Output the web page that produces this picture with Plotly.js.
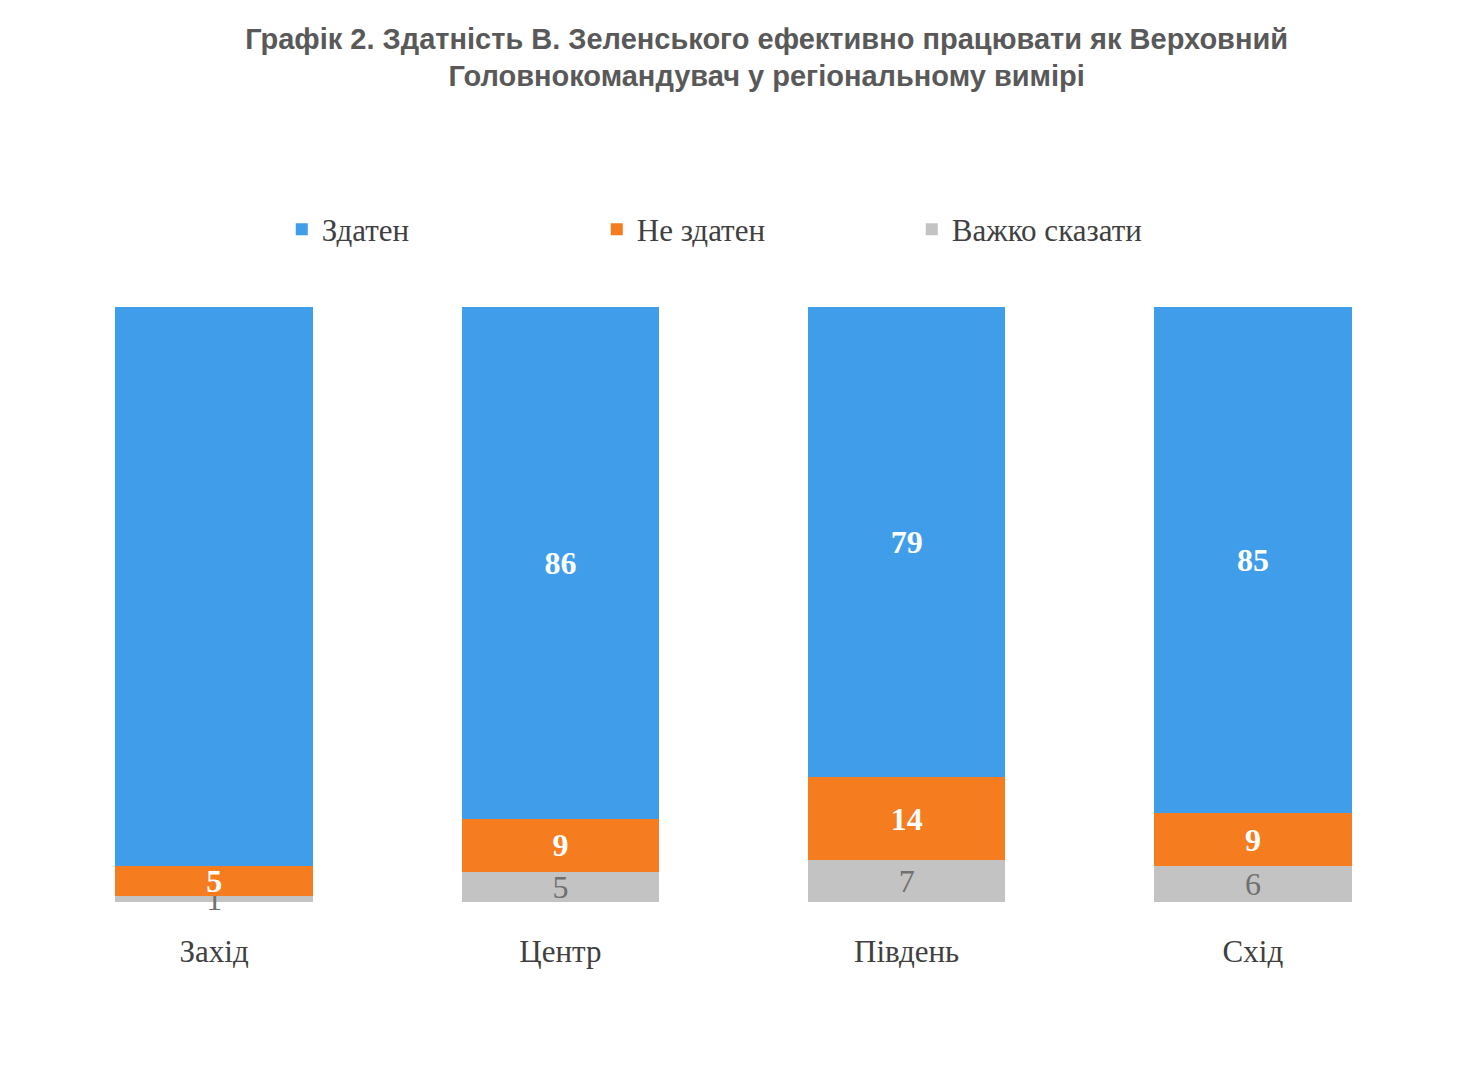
<!DOCTYPE html>
<html><head><meta charset="utf-8">
<script src="https://cdn.plot.ly/plotly-3.0.1.min.js"></script>
<style>body{margin:0;background:#fff}</style></head>
<body><div id="c" style="width:1480px;height:1081px"></div>
<script>
const regions = ['Захід','Центр','Південь','Схід'];
const capable = [93,86,79,85];
const notCapable = [5,9,14,9];
const hardToSay = [1,5,7,6];
const seriesNames = ['Здатен','Не здатен','Важко сказати'];

const serif = 'Liberation Serif, Times New Roman, serif';
const mk = (y,name,color,tcolor,bold)=>({
  type:'bar', x:regions, y:y, name:name, marker:{color:color},
  text:y.map(String), textposition:'inside', insidetextanchor:'middle',
  textangle:0, constraintext:'none', cliponaxis:false,
  texttemplate: bold ? '<b>%{text}</b>' : '%{text}',
  textfont:{family:serif,size:32,color:tcolor}, hoverinfo:'skip'
});
const data=[
  mk(hardToSay,seriesNames[2],'#c3c3c3','#707070',false),
  mk(notCapable,seriesNames[1],'#f67c20','#ffffff',true),
  mk(capable,seriesNames[0],'#409de9','#ffffff',true)
];
const layout={
  width:1480,height:1081,paper_bgcolor:'#fff',plot_bgcolor:'#fff',
  barmode:'stack',barnorm:'percent',bargap:0.43,showlegend:true,
  margin:{l:41,r:54,t:307,b:179},
  title:{text:'<b>Графік 2. Здатність В. Зеленського ефективно працювати як Верховний<br>Головнокомандувач у регіональному вимірі</b>',
    x:0.518,xanchor:'center',y:0.955,yanchor:'top',
    font:{family:'Liberation Sans, Arial, sans-serif',size:29,color:'#595959',lineposition:'none'}},
  legend:{orientation:'h',x:0.515,xanchor:'center',y:1.13,yanchor:'middle',
    font:{family:serif,size:31,color:'#404040'},itemwidth:30,
    entrywidth:270,traceorder:'reversed'},
  xaxis:{showline:false,ticks:'outside',ticklen:22,tickcolor:'rgba(0,0,0,0)',tickfont:{family:serif,size:31,color:'#404040'}},
  yaxis:{visible:false,range:[0,100],fixedrange:true}
};
Plotly.newPlot('c',data,layout,{displayModeBar:false,staticPlot:true});
</script></body></html>
